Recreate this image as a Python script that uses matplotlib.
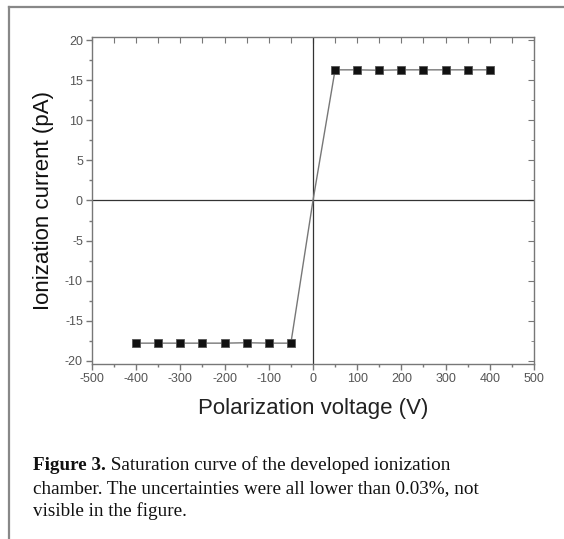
import matplotlib

matplotlib.use("Agg")
import matplotlib.pyplot as plt
from matplotlib.lines import Line2D
from matplotlib.ticker import MultipleLocator

# polarization voltage (V) and measured ionization current (pA)
voltage_neg = [-400, -350, -300, -250, -200, -150, -100, -50]
current_neg = [-17.8, -17.8, -17.8, -17.8, -17.8, -17.75, -17.8, -17.8]
voltage_pos = [50, 100, 150, 200, 250, 300, 350, 400]
current_pos = [16.3, 16.3, 16.25, 16.3, 16.3, 16.3, 16.3, 16.3]
voltage_all = voltage_neg + [0] + voltage_pos
current_all = current_neg + [0] + current_pos

x_label = "Polarization voltage (V)"
y_label = "Ionization current (pA)"
cap_bold = "Figure 3."
cap_line1 = " Saturation curve of the developed ionization"
cap_line2 = "chamber. The uncertainties were all lower than 0.03%, not"
cap_line3 = "visible in the figure."

plt.rcParams["font.family"] = ["Liberation Sans", "DejaVu Sans"]
plt.rcParams["axes.unicode_minus"] = False

fig = plt.figure(figsize=(5.64, 5.39), dpi=100)
ax = fig.add_axes([0.1631, 0.3247, 0.7837, 0.6067])

ax.axhline(0, color="#333333", lw=0.9, zorder=1)
ax.axvline(0, color="#333333", lw=0.9, zorder=1)

# connecting line goes through the origin, markers only on measured points
ax.plot(voltage_all, current_all, color="#777777", lw=1.0, zorder=2)
ax.plot(voltage_neg, current_neg, ls="none", marker="s", ms=6,
        mfc="#111111", mec="#555555", mew=0.6, zorder=3)
ax.plot(voltage_pos, current_pos, ls="none", marker="s", ms=6,
        mfc="#111111", mec="#555555", mew=0.6, zorder=3)

ax.set_xlim(-500, 500)
ax.set_ylim(-20.4, 20.4)
ax.xaxis.set_major_locator(MultipleLocator(100))
ax.xaxis.set_minor_locator(MultipleLocator(50))
ax.yaxis.set_major_locator(MultipleLocator(5))
ax.yaxis.set_minor_locator(MultipleLocator(2.5))

for s in ax.spines.values():
    s.set_color("#777777")
    s.set_linewidth(1.0)

ax.tick_params(which="both", direction="out", color="#777777", width=1.0,
               labelsize=9, labelcolor="#555555", pad=2)
ax.tick_params(which="major", length=4.5)
ax.tick_params(which="minor", length=2.5)

# inward ticks on the top and right side
top = ax.secondary_xaxis("top")
top.set_xticks(range(-500, 501, 50))
top.tick_params(direction="in", length=4, color="#777777", labeltop=False)
top.spines["top"].set_visible(False)
right = ax.secondary_yaxis("right")
right.yaxis.set_major_locator(MultipleLocator(5))
right.yaxis.set_minor_locator(MultipleLocator(2.5))
right.tick_params(which="major", direction="in", length=4, color="#777777", labelright=False)
right.tick_params(which="minor", direction="in", length=2.5, color="#777777")
right.spines["right"].set_visible(False)

ax.set_xlabel(x_label, fontsize=16, color="#222222", labelpad=9)
ax.set_ylabel(y_label, fontsize=16, color="#111111", labelpad=8)

# page frame
fig.add_artist(Line2D([9 / 564, 9 / 564], [0, 1 - 7 / 539], color="#888888", lw=1.6))
fig.add_artist(Line2D([9 / 564, 1], [1 - 7 / 539, 1 - 7 / 539], color="#888888", lw=1.6))

serif = ["Liberation Serif", "DejaVu Serif"]
cx = 33 / 564
t = fig.text(cx, 1 - 474 / 539, cap_bold, fontsize=13.8, family=serif,
             fontweight="bold", color="#111111", va="bottom")
ax.annotate(cap_line1, xy=(1, 0), xycoords=t, fontsize=13.8, family=serif,
            color="#111111", va="bottom", ha="left", annotation_clip=False)
fig.text(cx, 1 - 497 / 539, cap_line2, fontsize=13.8, family=serif,
         color="#111111", va="bottom")
fig.text(cx, 1 - 520 / 539, cap_line3, fontsize=13.8, family=serif,
         color="#111111", va="bottom")

fig.savefig("out.png", dpi=100)
